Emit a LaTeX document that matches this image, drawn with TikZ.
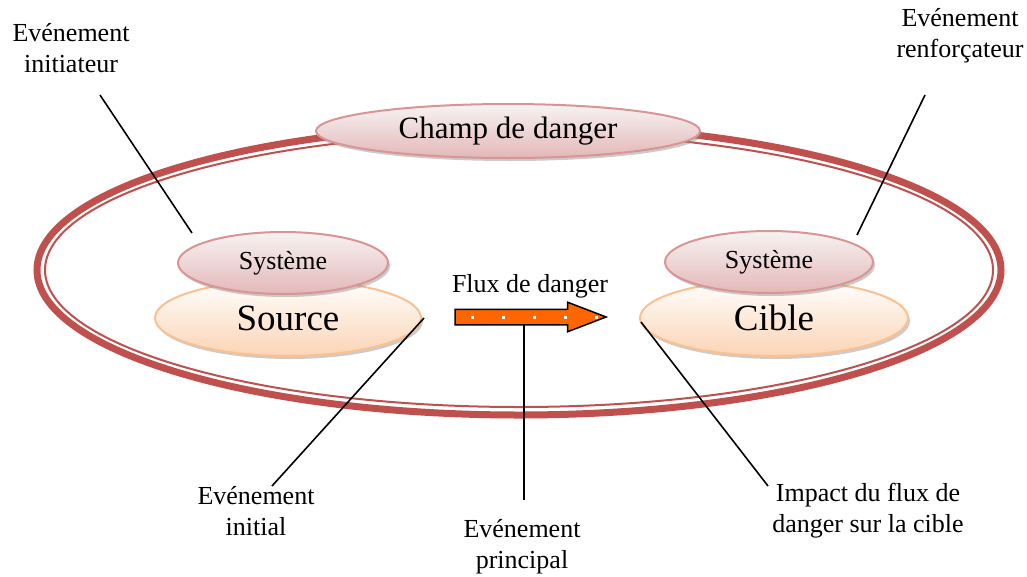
\documentclass[tikz,border=0pt]{standalone}
\usepackage{fontspec}
\setmainfont{Liberation Serif}
\usetikzlibrary{shapes.geometric,shapes.arrows,shadows}
\definecolor{ringred}{HTML}{C0504D}
\definecolor{pinkline}{HTML}{D99594}
\definecolor{pinktop}{HTML}{F7F3F3}
\definecolor{pinkbot}{HTML}{E4B7B8}
\definecolor{orangeline}{HTML}{FAC08F}
\definecolor{orangetop}{HTML}{FFFFFF}
\definecolor{orangebot}{HTML}{FBD4B4}
\definecolor{arroworange}{HTML}{FF6600}
\begin{document}
\begin{tikzpicture}[x=1pt,y=-1pt,
  ellshadow/.style={drop shadow={shadow xshift=2pt,shadow yshift=-3pt,opacity=.45,fill=black!45}},
  pinkell/.style={ellipse, draw=pinkline, line width=2pt, top color=pinktop, bottom color=pinkbot, inner sep=0pt, ellshadow},
  orangeell/.style={ellipse, draw=orangeline, line width=2pt, top color=orangetop, bottom color=orangebot, inner sep=0pt, ellshadow},
  lbl/.style={align=center, font=\fontsize{26}{31}\selectfont, inner sep=0pt},
  conn/.style={draw=black, line width=1.6pt}
]
\useasboundingbox (0,0) rectangle (1027,576);
% outer double ring
\draw[ringred, line width=7pt] (519,270) ellipse [x radius=482, y radius=145];
\draw[ringred, line width=2pt] (519,270) ellipse [x radius=474, y radius=137];

% champ de danger
\node[pinkell, minimum width=384pt, minimum height=54pt, font=\fontsize{31}{36}\selectfont] (champ) at (508,131) {Champ de danger};

% source and cible
\node[orangeell, minimum width=266pt, minimum height=76pt, font=\fontsize{37}{42}\selectfont] (source) at (288,318) {Source};
\node[pinkell, minimum width=210pt, minimum height=62pt, font=\fontsize{26}{30}\selectfont] (sys1) at (283,263) {Système};
\node[orangeell, minimum width=268pt, minimum height=76pt, font=\fontsize{37}{42}\selectfont] (cible) at (774,318) {Cible};
\node[pinkell, minimum width=208pt, minimum height=62pt, font=\fontsize{26}{30}\selectfont] (sys2) at (769,262) {Système};

% flux arrow
\node[single arrow, draw=black, line width=1.5pt, fill=arroworange, minimum height=151pt,
      text height=7pt, text depth=7pt, text width=0pt,
      single arrow head extend=7pt, single arrow tip angle=42, inner sep=0pt] (flux) at (520.5,317) {};
\coordinate (dotsA) at (471,317);
\coordinate (dotsB) at (598,317);
\draw[white, line width=3pt, dash pattern=on 3pt off 28pt] (dotsA) -- (dotsB);
\node[lbl, anchor=base] (fluxlbl) at (530,292) {Flux de danger};

% labels (base anchor = last line baseline)
\node[lbl, anchor=base] (initiateur) at (71,72) {Evénement\\initiateur};
\node[lbl, anchor=base] (renfor) at (960,57) {Evénement\\renforçateur};
\node[lbl, anchor=base] (initial) at (256,535) {Evénement\\initial};
\node[lbl, anchor=base] (principal) at (522,568) {Evénement\\principal};
\node[lbl, anchor=base] (impact) at (868,532) {Impact du flux de\\danger sur la cible};

% connectors
\coordinate (c1a) at (100,95);
\coordinate (c1b) at (192,233);
\draw[conn] (c1a) -- (c1b);
\coordinate (c2a) at (925,95);
\coordinate (c2b) at (857,235);
\draw[conn] (c2a) -- (c2b);
\coordinate (c3a) at (424,318);
\coordinate (c3b) at (272,486);
\draw[conn] (c3a) -- (c3b);
\coordinate (c4a) at (524,325);
\coordinate (c4b) at (524,500);
\draw[conn] (c4a) -- (c4b);
\coordinate (c5a) at (641,322);
\coordinate (c5b) at (768,486);
\draw[conn] (c5a) -- (c5b);
\end{tikzpicture}
\end{document}
